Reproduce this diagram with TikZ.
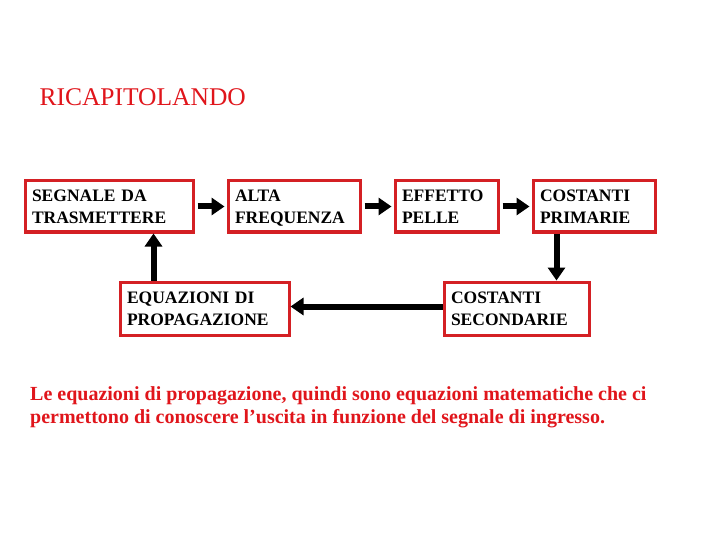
\documentclass[tikz,border=0pt]{standalone}
\usepackage{fontspec}
\setmainfont{Liberation Serif}
\usetikzlibrary{arrows.meta,calc}
\definecolor{BoxRed}{HTML}{D42024}
\definecolor{TextRed}{HTML}{E0151B}
\tikzset{
recapbox/.style={draw=BoxRed, line width=3pt, fill=white, align=left, inner xsep=7pt, inner ysep=2pt,
  font=\fontsize{17.5}{22}\selectfont\bfseries, text height=14pt, text depth=24pt, anchor=center},
recaparrow/.style={-{Triangle[length=13pt,width=17pt]}, line width=6pt, draw=black}
}

\begin{document}
\begin{tikzpicture}[x=1pt, y=-1pt]
  \useasboundingbox (0,0) rectangle (720,540);
  \node[text=TextRed, anchor=west, font=\fontsize{25.5}{30}\selectfont] (title) at (36,97) {RICAPITOLANDO};
  \node[recapbox, minimum width=168pt, minimum height=51pt, text width=154pt] (segnale) at (109,206.5) {SEGNALE DA\\TRASMETTERE};
  \node[recapbox, minimum width=132pt, minimum height=51pt, text width=118pt] (alta) at (294,206.5) {ALTA\\FREQUENZA};
  \node[recapbox, minimum width=103pt, minimum height=51pt, text width=89pt] (effetto) at (446.5,206.5) {EFFETTO\\PELLE};
  \node[recapbox, minimum width=122pt, minimum height=51pt, text width=108pt] (primarie) at (594,206.5) {COSTANTI\\PRIMARIE};
  \node[recapbox, minimum width=169pt, minimum height=53pt, text width=155pt] (equazioni) at (204.5,308.5) {EQUAZIONI DI\\PROPAGAZIONE};
  \node[recapbox, minimum width=145pt, minimum height=53pt, text width=131pt] (secondarie) at (516.5,308.5) {COSTANTI\\SECONDARIE};
  \node[text=TextRed, anchor=north west, align=left, inner sep=0pt,
    font=\fontsize{20}{23}\selectfont\bfseries] (nota) at (30,386)
    {Le equazioni di propagazione, quindi sono equazioni matematiche che ci\\permettono di conoscere l’uscita in funzione del segnale di ingresso.};
  \draw[recaparrow, shorten <=3pt, shorten >=2pt] (segnale) -- (alta);
  \draw[recaparrow, shorten <=3pt, shorten >=2pt] (alta) -- (effetto);
  \draw[recaparrow, shorten <=3pt, shorten >=2pt] (effetto) -- (primarie);
  \draw[recaparrow] ([xshift=25pt]primarie.south west) -- ([xshift=25pt]primarie.south west |- secondarie.north);
  \draw[recaparrow] ([yshift=2pt]secondarie.west) -- ([yshift=2pt]secondarie.west -| equazioni.east);
  \draw[recaparrow] ([xshift=35pt]equazioni.north west) -- ([xshift=35pt]equazioni.north west |- segnale.south);
\end{tikzpicture}
\end{document}
